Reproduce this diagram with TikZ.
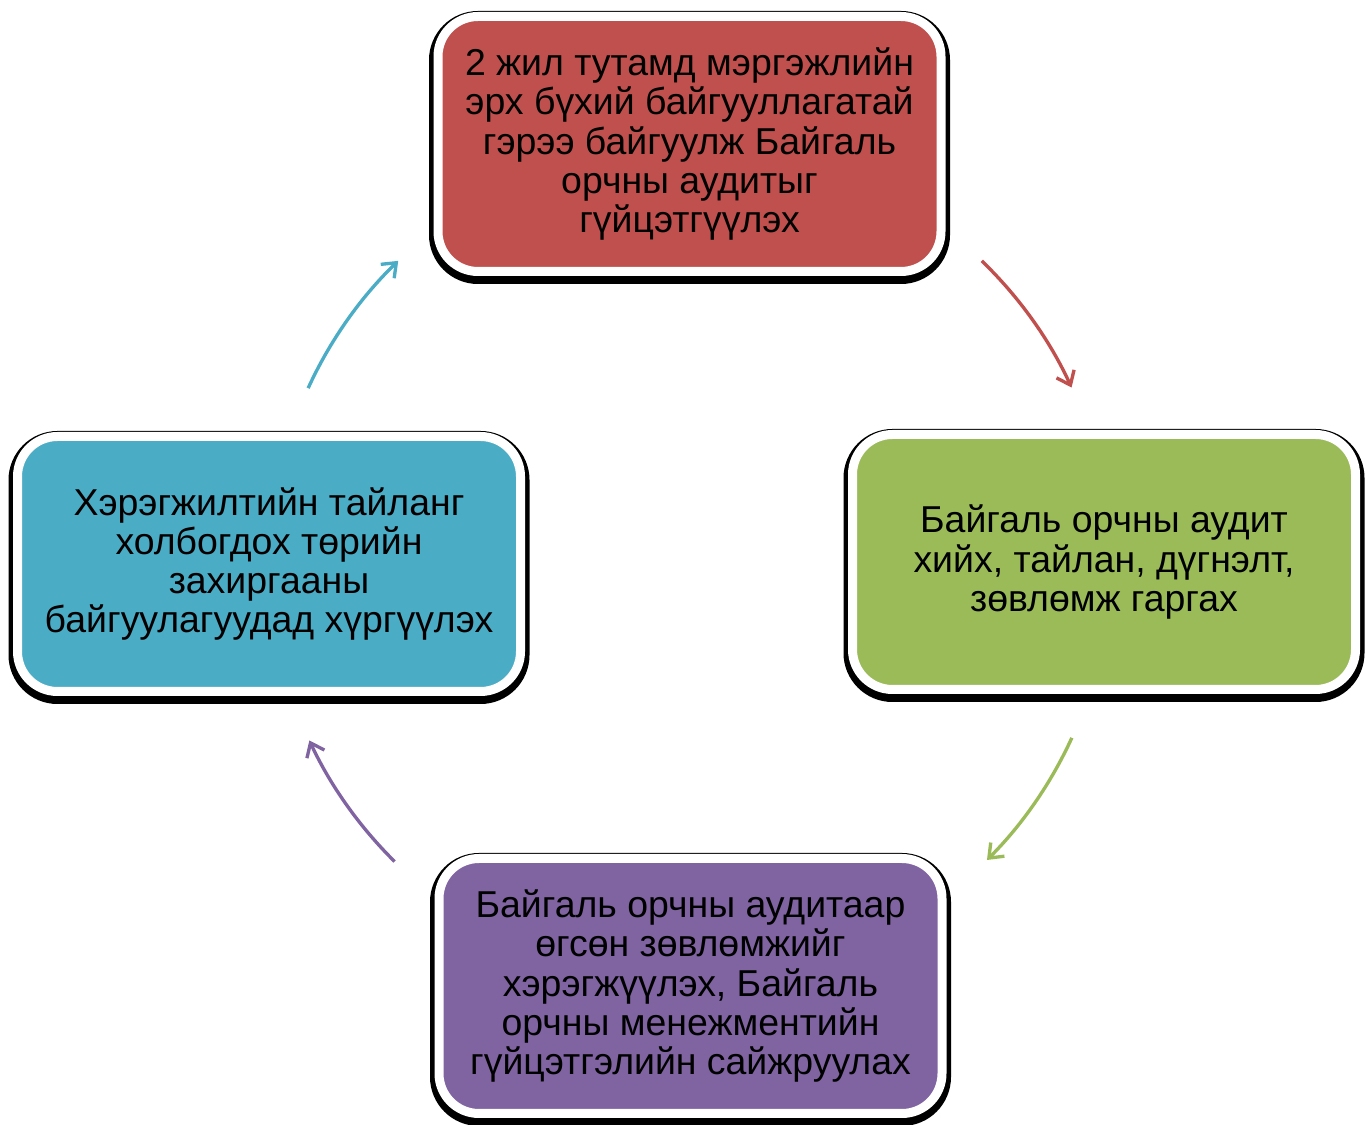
\documentclass[tikz,border=0pt]{standalone}
\usepackage{fontspec}
\setmainfont{Liberation Sans}
\usetikzlibrary{arrows.meta,calc}
\definecolor{stagered}{HTML}{C0504D}
\definecolor{stagegreen}{HTML}{9BBB59}
\definecolor{stagepurple}{HTML}{8064A2}
\definecolor{stageblue}{HTML}{4BACC6}
\tikzset{
  stagebox/.style={rounded corners=0.8cm, draw=white, line width=0.18cm,
    minimum width=10.06cm, minimum height=5.1cm, align=center, text=black,
    font=\fontsize{21.3}{22.3}\selectfont,
    preaction={draw=black, line width=0.36cm, transform canvas={yshift=-0.07cm}}},
  cyclearrow/.style={line width=1.9pt, -{Straight Barb[length=7pt,width=11pt]}}
}
\begin{document}
\begin{tikzpicture}
  \useasboundingbox (0,0) rectangle (27.32,-22.5);
  \node[stagebox, fill=stagered] (audit) at (13.79,-2.88)
    {2 жил тутамд мэргэжлийн\\эрх бүхий байгууллагатай\\гэрээ байгуулж Байгаль\\орчны аудитыг\\гүйцэтгүүлэх};
  \node[stagebox, fill=stagegreen] (report) at (22.08,-11.24)
    {Байгаль орчны аудит\\хийх, тайлан, дүгнэлт,\\зөвлөмж гаргах};
  \node[stagebox, fill=stagepurple] (improve) at (13.81,-19.72)
    {Байгаль орчны аудитаар\\өгсөн зөвлөмжийг\\хэрэгжүүлэх, Байгаль\\орчны менежментийн\\гүйцэтгэлийн сайжруулах};
  \node[stagebox, fill=stageblue] (send) at (5.38,-11.28)
    {Хэрэгжилтийн тайланг\\холбогдох төрийн\\захиргааны\\байгуулагуудад хүргүүлэх};
  % arrows on a circle round the hub
  \coordinate (hub) at (13.8,-11.26);
  \coordinate (redstart) at ($(hub)+(46:8.4)$);
  \coordinate (greenstart) at ($(hub)+(-24.6:8.4)$);
  \coordinate (purplestart) at ($(hub)+(-134.7:8.4)$);
  \coordinate (bluestart) at ($(hub)+(155.4:8.4)$);
  \draw[cyclearrow, stagered] (redstart) arc[start angle=46, end angle=24.7, radius=8.4];
  \draw[cyclearrow, stagegreen] (greenstart) arc[start angle=-24.6, end angle=-45, radius=8.4];
  \draw[cyclearrow, stagepurple] (purplestart) arc[start angle=-134.7, end angle=-155, radius=8.4];
  \draw[cyclearrow, stageblue] (bluestart) arc[start angle=155.4, end angle=134, radius=8.4];
\end{tikzpicture}
\end{document}
